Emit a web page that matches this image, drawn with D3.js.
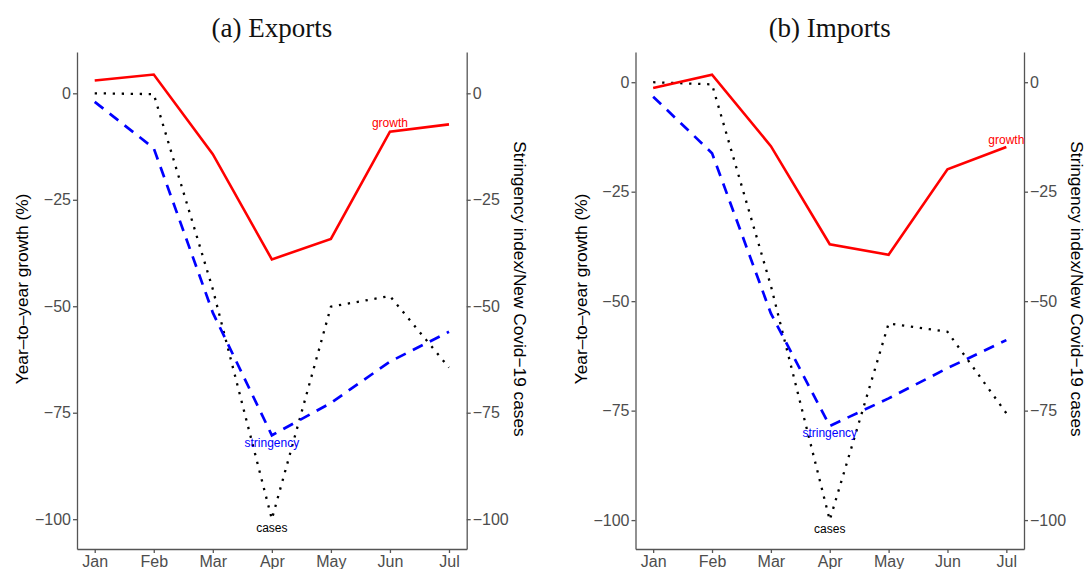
<!DOCTYPE html>
<html>
<head>
<meta charset="utf-8">
<script src="https://cdn.jsdelivr.net/npm/d3@7"></script>
<style>
  body { margin: 0; background: #fff; }
  svg { display: block; }
</style>
</head>
<body>
<svg id="chart" width="1087" height="569"></svg>
<script>
// Monthly series, 2020
const months = ["Jan", "Feb", "Mar", "Apr", "May", "Jun", "Jul"];
const yTicks = [0, -25, -50, -75, -100];

// (a) Exports
const exportsGrowth     = [3.0, 4.4, -14.3, -39.0, -34.2, -9.0, -7.3];
const exportsStringency = [-2.0, -12.9, -51.5, -80.3, -72.7, -63.0, -56.0];
const exportsCases      = [0, -0.2, -46.0, -100, -50.1, -47.6, -64.4];

// (b) Imports
const importsGrowth     = [-1.3, 1.7, -14.6, -37.0, -39.4, -19.9, -14.8];
const importsStringency = [-3.3, -16.2, -52.8, -78.5, -72.2, -65.3, -58.9];
const importsCases      = [0, -0.5, -46.5, -100, -55.1, -57.0, -75.6];

// Direct labels: series name, month and value where the label sits
const labelNames   = ["growth", "stringency", "cases"];
const exportsLabelMonths = ["Jun", "Apr", "Apr"];
const exportsLabelValues = [-6.9, -82.1, -102.0];
const importsLabelMonths = ["Jul", "Apr", "Apr"];
const importsLabelValues = [-13.2, -80.2, -102.0];

const seriesColors = { growth: "#FF0000", stringency: "#0000FF", cases: "#000000" };

const panels = [
  {
    title: "(a) Exports",
    left: 77, right: 466.7,
    yDomain: [-107.0, 9.7],
    growth: exportsGrowth, stringency: exportsStringency, cases: exportsCases,
    labelMonths: exportsLabelMonths, labelValues: exportsLabelValues
  },
  {
    title: "(b) Imports",
    left: 635.5, right: 1024,
    yDomain: [-106.6, 6.9],
    growth: importsGrowth, stringency: importsStringency, cases: importsCases,
    labelMonths: importsLabelMonths, labelValues: importsLabelValues
  }
];

const plotTop = 52, plotBottom = 549;
const axisTitleY = 289;
const axisColor = "#555555";
const tickTextColor = "#4D4D4D";
const sans = "'Liberation Sans', Arial, Helvetica, sans-serif";

const svg = d3.select("#chart");
const fmt = d => d3.format("d")(d);

panels.forEach(p => {
  const x = d3.scalePoint().domain(months).range([p.left, p.right]).padding(0.3);
  const y = d3.scaleLinear().domain(p.yDomain).range([plotBottom, plotTop]);
  const g = svg.append("g");

  // Title
  g.append("text")
    .attr("x", (p.left + p.right) / 2)
    .attr("y", 37)
    .attr("text-anchor", "middle")
    .attr("font-family", "'Liberation Serif', 'Times New Roman', serif")
    .attr("font-size", 27)
    .attr("fill", "#111")
    .text(p.title);

  // Axes
  const styleAxis = sel => {
    sel.select(".domain").attr("stroke", axisColor).attr("stroke-width", 1.3);
    sel.selectAll(".tick line").attr("stroke", axisColor).attr("stroke-width", 1.3);
    sel.selectAll(".tick text")
      .attr("fill", tickTextColor)
      .attr("font-family", sans)
      .attr("font-size", 16);
  };

  g.append("g")
    .attr("transform", `translate(${p.left},0)`)
    .call(d3.axisLeft(y).tickValues(yTicks).tickFormat(fmt).tickSize(4).tickSizeOuter(0).tickPadding(2))
    .call(styleAxis);

  g.append("g")
    .attr("transform", `translate(${p.right},0)`)
    .call(d3.axisRight(y).tickValues(yTicks).tickFormat(fmt).tickSize(4).tickSizeOuter(0).tickPadding(2))
    .call(styleAxis);

  g.append("g")
    .attr("transform", `translate(0,${plotBottom})`)
    .call(d3.axisBottom(x).tickSize(4).tickSizeOuter(0).tickPadding(3))
    .call(styleAxis);

  // Axis titles
  g.append("text")
    .attr("transform", `translate(${p.left - 55},${axisTitleY}) rotate(-90)`)
    .attr("text-anchor", "middle")
    .attr("dominant-baseline", "central")
    .attr("font-family", sans)
    .attr("font-size", 17.3)
    .attr("fill", "#000")
    .text("Year\u2013to\u2013year growth (%)");

  g.append("text")
    .attr("transform", `translate(${p.right + 53},${axisTitleY}) rotate(90)`)
    .attr("text-anchor", "middle")
    .attr("dominant-baseline", "central")
    .attr("font-family", sans)
    .attr("font-size", 17.3)
    .attr("fill", "#000")
    .text("Stringency index/New Covid\u221219 cases");

  // Series lines
  const line = d3.line().x((d, i) => x(months[i])).y(d => y(d));

  g.append("path")
    .attr("d", line(p.cases))
    .attr("fill", "none")
    .attr("stroke", seriesColors.cases)
    .attr("stroke-width", 2.3)
    .attr("stroke-dasharray", "2.3,6.7");

  g.append("path")
    .attr("d", line(p.stringency))
    .attr("fill", "none")
    .attr("stroke", seriesColors.stringency)
    .attr("stroke-width", 2.7)
    .attr("stroke-dasharray", "11,8");

  g.append("path")
    .attr("d", line(p.growth))
    .attr("fill", "none")
    .attr("stroke", seriesColors.growth)
    .attr("stroke-width", 2.6)
    .attr("stroke-linejoin", "miter");

  // Direct labels
  labelNames.forEach((name, i) => {
    g.append("text")
      .attr("x", x(p.labelMonths[i]))
      .attr("y", y(p.labelValues[i]))
      .attr("text-anchor", "middle")
      .attr("dominant-baseline", "central")
      .attr("font-family", sans)
      .attr("font-size", 12)
      .attr("fill", seriesColors[name])
      .text(name);
  });
});
</script>
</body>
</html>
